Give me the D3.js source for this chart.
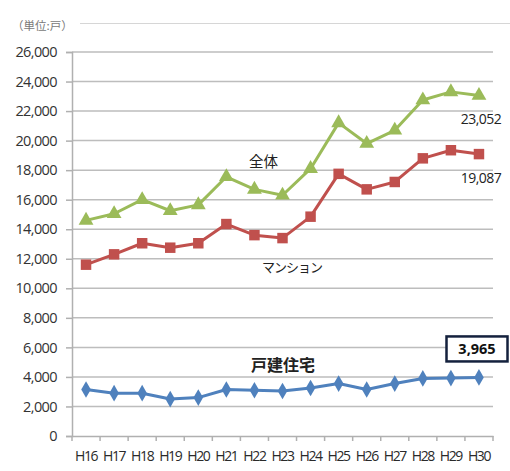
<!DOCTYPE html>
<html>
<head>
<meta charset="utf-8">
<script src="https://cdn.jsdelivr.net/npm/d3@7/dist/d3.min.js"></script>
<style>
  html, body { margin: 0; padding: 0; background: #fff; }
  svg { display: block; }
  text { font-family: "Noto Sans CJK JP", "Noto Sans", sans-serif; }
</style>
</head>
<body>
<svg id="chart" width="510" height="471"></svg>
<script>
// Housing starts by fiscal year (unit: dwellings)
const years = ["H16","H17","H18","H19","H20","H21","H22","H23","H24","H25","H26","H27","H28","H29","H30"];
const totalUnits    = [14600,15050,16000,15250,15650,17550,16700,16300,18100,21200,19800,20700,22750,23300,23052];
const condoUnits    = [11600,12300,13050,12750,13050,14350,13600,13400,14850,17750,16700,17200,18800,19350,19087];
const detachedUnits = [3150,2900,2900,2500,2600,3150,3100,3050,3250,3550,3150,3550,3900,3920,3965];
const yTicks = [0,2000,4000,6000,8000,10000,12000,14000,16000,18000,20000,22000,24000,26000];

const svg = d3.select("#chart");
const plotLeft = 72, plotRight = 493, plotTop = 52, plotBottom = 436;

const x = d3.scaleBand().domain(years).range([plotLeft, plotRight]).padding(0);
const y = d3.scaleLinear().domain([0, 26000]).range([plotBottom, plotTop]);
const cx = d => x(d) + x.bandwidth() / 2;

// frame line along the top
svg.append("line")
  .attr("x1", 80).attr("x2", 510).attr("y1", 23.5).attr("y2", 23.5)
  .attr("stroke", "#d6d6d6").attr("stroke-width", 1);

svg.append("text")
  .attr("x", 12).attr("y", 30)
  .attr("font-size", 11.5).attr("fill", "#7a7a7a")
  .text("（単位:戸）");

// horizontal gridlines
svg.append("g").selectAll("line").data(yTicks.filter(t => t > 0)).join("line")
  .attr("x1", plotLeft).attr("x2", plotRight)
  .attr("y1", d => y(d)).attr("y2", d => y(d))
  .attr("stroke", "#bdbdbd").attr("stroke-width", 1.5);

// y axis
const yAxis = svg.append("g")
  .attr("transform", `translate(${plotLeft},0)`)
  .call(d3.axisLeft(y).tickValues(yTicks).tickFormat(d3.format(",")).tickSize(6).tickPadding(9));
yAxis.select(".domain").attr("stroke", "#b0b0b0").attr("stroke-width", 1.5);
yAxis.selectAll(".tick line").attr("stroke", "#b0b0b0").attr("stroke-width", 1.5);
yAxis.selectAll("text")
  .attr("font-size", 14.5).attr("fill", "#333")
  .style("font-family", "'Open Sans', 'Noto Sans', sans-serif")
  .attr("letter-spacing", "-0.6px");

// x axis
const xAxis = svg.append("g")
  .attr("transform", `translate(0,${plotBottom})`)
  .call(d3.axisBottom(x).tickSize(0).tickPadding(15));
xAxis.select(".domain").attr("stroke", "#b0b0b0").attr("stroke-width", 1.5);
xAxis.selectAll("text")
  .attr("font-size", 14).attr("fill", "#2a2a2a")
  .style("font-family", "'Open Sans', 'Noto Sans', sans-serif")
  .attr("letter-spacing", "-1.4px");
// category boundary tick marks
svg.append("g").selectAll("line").data(d3.range(years.length + 1)).join("line")
  .attr("x1", i => plotLeft + i * x.step()).attr("x2", i => plotLeft + i * x.step())
  .attr("y1", plotBottom).attr("y2", plotBottom + 5)
  .attr("stroke", "#b0b0b0").attr("stroke-width", 1.5);

const line = d3.line().x((d, i) => cx(years[i])).y(d => y(d));

function drawSeries(values, color, symbolType, size) {
  svg.append("path").datum(values)
    .attr("d", line).attr("fill", "none")
    .attr("stroke", color).attr("stroke-width", 3).attr("stroke-linejoin", "round");
  svg.append("g").selectAll("path").data(values).join("path")
    .attr("d", d3.symbol().type(symbolType).size(size))
    .attr("transform", (d, i) => `translate(${cx(years[i])},${y(d)})`)
    .attr("fill", color);
}

drawSeries(totalUnits, "#9bbb59", d3.symbolTriangle, 95);
drawSeries(condoUnits, "#c0504d", d3.symbolSquare, 110);
drawSeries(detachedUnits, "#4f81bd", d3.symbolDiamond, 80);

// series labels
svg.append("text").attr("x", 249).attr("y", 167)
  .attr("font-size", 14.5).attr("fill", "#222").text("全体");
svg.append("text").attr("x", 262).attr("y", 272)
  .attr("font-size", 13).attr("fill", "#222").attr("letter-spacing", "-1px").text("マンション");
svg.append("text").attr("x", 251).attr("y", 371)
  .attr("font-size", 16).attr("font-weight", "bold").attr("fill", "#222").text("戸建住宅");

// value labels for the final year
const last = years.length - 1;
const fmt = d3.format(",");
svg.append("text").attr("x", 481).attr("y", y(totalUnits[last]) + 28)
  .attr("text-anchor", "middle").attr("font-size", 14).attr("fill", "#222")
  .style("font-family", "'Open Sans', 'Noto Sans', sans-serif")
  .attr("letter-spacing", "-0.5px")
  .text(fmt(totalUnits[last]));
svg.append("text").attr("x", 481).attr("y", y(condoUnits[last]) + 29)
  .attr("text-anchor", "middle").attr("font-size", 14).attr("fill", "#222")
  .style("font-family", "'Open Sans', 'Noto Sans', sans-serif")
  .attr("letter-spacing", "-0.5px")
  .text(fmt(condoUnits[last]));

const boxY = y(detachedUnits[last]) - 41;
svg.append("rect").attr("x", 446.5).attr("y", boxY).attr("width", 61).attr("height", 25)
  .attr("fill", "#fff").attr("stroke", "#14213d").attr("stroke-width", 2.5);
svg.append("text").attr("x", 477).attr("y", boxY + 18)
  .attr("text-anchor", "middle").attr("font-size", 14.5).attr("font-weight", "bold").attr("fill", "#111")
  .style("font-family", "'Open Sans', 'Noto Sans', sans-serif")
  .text(fmt(detachedUnits[last]));
</script>
</body>
</html>
